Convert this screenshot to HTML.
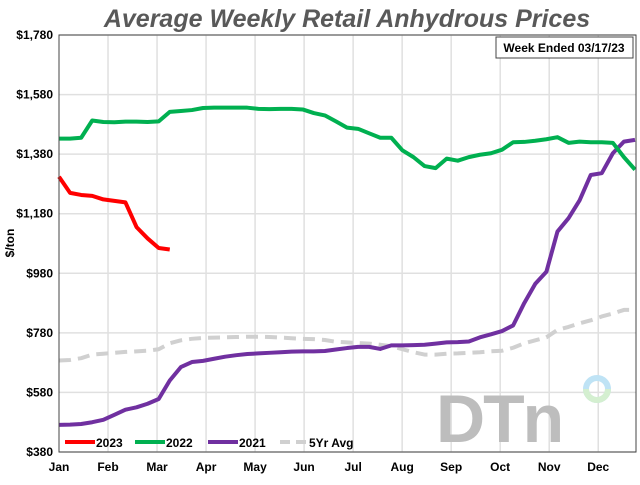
<!DOCTYPE html>
<html><head><meta charset="utf-8"><style>
body{margin:0;background:#fff;width:640px;height:480px;overflow:hidden;font-family:"Liberation Sans",sans-serif}
</style></head><body>
<svg width="640" height="480" xmlns="http://www.w3.org/2000/svg" font-family="Liberation Sans, sans-serif">
<text x="347" y="27" text-anchor="middle" font-size="25" font-weight="bold" font-style="italic" fill="#595959">Average Weekly Retail Anhydrous Prices</text>
<g id="grid"></g>
<g id="logo">
<text x="436" y="442" font-size="68" font-weight="bold" fill="#bdbdbd" letter-spacing="-2">DTn</text>
<circle cx="597" cy="389" r="11" fill="none" stroke="#bfe3f5" stroke-width="6"/>
<path d="M586 389 A11 11 0 0 0 608 389" fill="none" stroke="#d4efd0" stroke-width="6"/>
</g>
<g id="series"></g>
<rect x="59" y="35" width="577" height="417" fill="none" stroke="#444" stroke-width="1"/>
<g id="axes"></g>
<rect x="496" y="37" width="137" height="21" fill="#fff" stroke="#444"/>
<text x="564" y="52" text-anchor="middle" font-size="12" font-weight="bold" fill="#000">Week Ended 03/17/23</text>
<text transform="translate(14,243) rotate(-90)" text-anchor="middle" font-size="12" font-weight="bold">$/ton</text>
<g id="legend"></g>
</svg>
<script>
const yTicks=[380,580,780,980,1180,1380,1580,1780];
const months=["Jan","Feb","Mar","Apr","May","Jun","Jul","Aug","Sep","Oct","Nov","Dec"];
const s2023=[1304,1250,1243,1240,1228,1223,1218,1135,1097,1065,1060];
const s2022=[1432,1432,1435,1493,1488,1487,1489,1489,1488,1490,1522,1525,1528,1535,1536,1536,1536,1536,1532,1531,1532,1532,1530,1518,1510,1490,1469,1465,1450,1435,1435,1393,1370,1340,1333,1365,1358,1370,1378,1383,1395,1420,1421,1425,1430,1437,1418,1422,1420,1420,1418,1370,1328];
const s2021=[471,472,474,480,488,505,522,530,542,558,620,665,682,686,693,700,705,709,711,713,715,717,718,718,719,724,729,733,733,726,738,738,739,740,744,748,749,751,765,775,786,805,880,945,985,1120,1165,1225,1310,1316,1383,1422,1428];
const s5yr=[687,689,695,707,710,713,716,718,720,725,745,755,760,763,764,765,766,767,767,766,764,762,760,759,756,750,748,746,744,740,735,725,715,707,707,710,711,713,715,718,720,730,745,755,765,790,800,812,822,835,845,857,857];
const NS="http://www.w3.org/2000/svg";
const X0=59,X1=636,Y0=452,Y1=35;
const y=v=>Y0-(v-380)/(1780-380)*(Y0-Y1);
const xw=i=>X0+i*(X1-X0-1)/52;
const xm=m=>X0+m*(X1-X0-1)/11.75;
function mk(t,a,p){const e=document.createElementNS(NS,t);for(const k in a)e.setAttribute(k,a[k]);p.appendChild(e);return e;}
const grid=document.getElementById('grid'),axes=document.getElementById('axes');
yTicks.forEach(v=>{
 const l=mk('line',{x1:X0,x2:X1,y1:y(v),y2:y(v),stroke:'#e0e0e0','stroke-width':1.5},grid);
 
 
 const t=mk('text',{x:53,y:y(v)+4,'text-anchor':'end','font-size':12,'font-weight':'bold'},axes);
 t.textContent='$'+v.toLocaleString('en-US');
 
 
});
months.forEach((m,i)=>{
 if(i>0){const l=mk('line',{x1:xm(i),x2:xm(i),y1:Y1,y2:Y0,stroke:'#e0e0e0','stroke-width':1.5},grid);
 
 }
 const t=mk('text',{x:xm(i),y:471,'text-anchor':'middle','font-size':12,'font-weight':'bold'},axes);
 t.textContent=m;
 
 
});
const ser=document.getElementById('series');
function line(d,col,dash,name){
 const p=mk('polyline',{points:d.map((v,i)=>xw(i)+','+y(v)).join(' '),fill:'none',stroke:col,'stroke-width':4,'stroke-linejoin':'round'},ser);
 if(dash)p.setAttribute('stroke-dasharray',dash);
 
 
}
line(s5yr,'#d0d0d0','12,7','line-5yr-avg');
line(s2021,'#7030a0',null,'line-2021');
line(s2022,'#00b050',null,'line-2022');
line(s2023,'#ff0000',null,'line-2023');
const lg=document.getElementById('legend');
[['2023','#ff0000',65,null],['2022','#00b050',135,null],['2021','#7030a0',208,null],['5Yr Avg','#d0d0d0',280,'10,6']].forEach(([n,c,x,d])=>{
 const l=mk('line',{x1:x,x2:x+30,y1:442,y2:442,stroke:c,'stroke-width':4},lg);
 if(d)l.setAttribute('stroke-dasharray',d);
 
 
 const t=mk('text',{x:x+31+(d?-1:0)+(d?0:0),y:447,'font-size':12,'font-weight':'bold'},lg);
 if(d)t.setAttribute('x',x+29);
 t.textContent=n;
 
 
});
</script>
</body></html>
